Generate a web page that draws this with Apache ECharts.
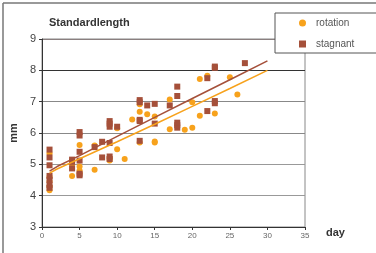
<!DOCTYPE html>
<html>
<head>
<meta charset="utf-8">
<script src="https://cdn.jsdelivr.net/npm/echarts@6/dist/echarts.min.js"></script>
<style>
  html, body { margin: 0; padding: 0; background: #fff; }
  #main { width: 376px; height: 253px; }
</style>
</head>
<body>
<div id="main"></div>
<script>
// rotation (orange circles)
var rotationDays = [1, 1, 1, 1, 1, 4, 4, 5, 5, 5, 5, 7, 7, 9, 9, 10, 10, 11, 12, 13, 13, 13, 14, 15, 15, 15, 17, 17, 19, 20, 20, 21, 21, 22, 23, 25, 26];
var rotationMm = [4.17, 4.3, 4.45, 4.6, 5.35, 4.63, 5.0, 4.72, 4.8, 4.93, 5.62, 4.83, 5.6, 5.12, 5.2, 5.48, 6.15, 5.17, 6.43, 5.7, 6.68, 6.92, 6.6, 5.7, 5.73, 6.53, 6.12, 7.07, 6.1, 6.17, 6.98, 6.55, 7.72, 7.83, 6.62, 7.78, 7.23];

// stagnant (brown squares)
var stagnantDays = [1, 1, 1, 1, 1, 1, 1, 4, 4, 4, 5, 5, 5, 5, 5, 5, 7, 8, 8, 9, 9, 9, 9, 9, 9, 10, 13, 13, 13, 13, 13, 14, 15, 15, 17, 18, 18, 18, 18, 18, 22, 22, 23, 23, 23, 23, 27];
var stagnantMm = [4.25, 4.33, 4.5, 4.63, 4.97, 5.22, 5.47, 4.87, 5.08, 5.15, 4.65, 4.7, 5.12, 5.4, 5.92, 6.03, 5.55, 5.22, 5.72, 5.17, 5.25, 5.68, 6.2, 6.3, 6.38, 6.2, 5.75, 6.38, 6.42, 6.98, 7.05, 6.88, 6.3, 6.93, 6.88, 6.17, 6.25, 6.33, 7.18, 7.48, 6.7, 7.75, 6.95, 7.02, 8.08, 8.12, 8.23];

// trend lines
var trendDays = [1, 2, 5, 10, 15, 20, 25, 30];
var rotationTrend = [4.72, 4.85, 5.18, 5.72, 6.28, 6.85, 7.42, 8.0];
var stagnantTrend = [4.78, 4.93, 5.28, 5.89, 6.5, 7.1, 7.7, 8.3];

function pairs(xs, ys) {
  return xs.map(function (x, i) { return [x, ys[i]]; });
}

var orange = '#F7A21C';
var brown = '#A5503A';

var myChart = echarts.init(document.getElementById('main'));

var option = {
  animation: false,
  backgroundColor: '#fff',
  title: {
    text: 'Standardlength',
    left: 44,
    top: 12,
    textStyle: { fontFamily: 'Liberation Sans', fontSize: 11, fontWeight: 'bold', color: '#333' }
  },
  legend: {
    data: ['rotation', 'stagnant'],
    orient: 'vertical',
    left: 275,
    top: 13,
    itemGap: 11,
    itemWidth: 7,
    itemHeight: 7,
    padding: [5, 40, 4, 24],
    borderColor: '#555',
    borderWidth: 1,
    backgroundColor: '#fff',
    textStyle: { fontFamily: 'Liberation Sans', fontSize: 10, color: '#555', padding: [0, 0, 0, 5] }
  },
  graphic: [
    { type: 'line', shape: { x1: 3, y1: 3, x2: 376, y2: 3 }, style: { stroke: '#777', lineWidth: 1.5 }, z: -1 },
    { type: 'line', shape: { x1: 3, y1: 3, x2: 3, y2: 253 }, style: { stroke: '#777', lineWidth: 1.5 }, z: -1 }
  ],
  grid: {
    left: 42,
    right: 71,
    top: 39,
    bottom: 26,
    show: true,
    borderColor: '#888',
    borderWidth: 1
  },
  xAxis: {
    type: 'value',
    min: 0,
    max: 35,
    interval: 5,
    name: 'day',
    nameLocation: 'end',
    nameGap: 21,
    nameTextStyle: { fontFamily: 'Liberation Sans', fontSize: 11, fontWeight: 'bold', color: '#333', verticalAlign: 'top' },
    axisLine: { lineStyle: { color: '#333' } },
    axisTick: { length: 3, lineStyle: { color: '#333' } },
    axisLabel: { fontFamily: 'Liberation Sans', fontSize: 8, color: '#666', margin: 5 },
    splitLine: { show: false }
  },
  yAxis: {
    type: 'value',
    min: 3,
    max: 9,
    interval: 1,
    name: 'mm',
    nameLocation: 'middle',
    nameGap: 18,
    nameRotate: 90,
    nameTextStyle: { fontFamily: 'Liberation Sans', fontSize: 11, fontWeight: 'bold', color: '#333' },
    axisLine: { show: true, lineStyle: { color: '#333' } },
    axisTick: { show: true, length: 3, lineStyle: { color: '#333' } },
    axisLabel: { fontFamily: 'Liberation Sans', fontSize: 11, color: '#444', margin: 6 },
    splitLine: {
      show: true,
      lineStyle: { color: ['#999', '#999', '#999', '#888', '#888', '#333', '#8a7f7f'], width: 1 }
    }
  },
  series: [
    {
      name: 'rotation',
      type: 'scatter',
      symbol: 'circle',
      symbolSize: 6,
      itemStyle: { color: orange, opacity: 1 },
      data: pairs(rotationDays, rotationMm),
      z: 2
    },
    {
      name: 'stagnant',
      type: 'scatter',
      symbol: 'rect',
      symbolSize: 6,
      itemStyle: { color: brown, opacity: 1 },
      data: pairs(stagnantDays, stagnantMm),
      z: 3
    },
    {
      name: 'rotation trend',
      type: 'line',
      showSymbol: false,
      symbol: 'none',
      lineStyle: { color: orange, width: 1.5 },
      data: pairs(trendDays, rotationTrend),
      z: 4
    },
    {
      name: 'stagnant trend',
      type: 'line',
      showSymbol: false,
      symbol: 'none',
      lineStyle: { color: brown, width: 1.5 },
      data: pairs(trendDays, stagnantTrend),
      z: 4
    }
  ]
};

myChart.setOption(option);
</script>
</body>
</html>
